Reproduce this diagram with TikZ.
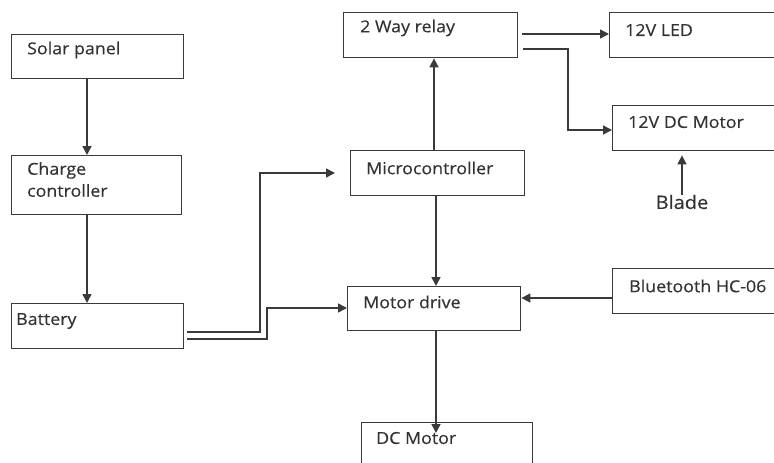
\documentclass[tikz,border=0pt]{standalone}
\usepackage{fontspec}
\setmainfont[FakeStretch=1.08,FakeBold=0.4]{Open Sans}
\usetikzlibrary{arrows.meta,calc}
\definecolor{ln}{HTML}{3A3A3A}
\definecolor{tx}{HTML}{333333}
\tikzset{
  box/.style={draw=ln, line width=1.4pt, rectangle, anchor=north west, inner sep=0pt},
  txt/.style={anchor=west, inner sep=0pt, text=tx, font=\fontsize{16.5}{22}\selectfont, align=left},
  arr/.style={draw=ln, line width=1.6pt, -{Triangle[length=9pt,width=9pt]}},
  wire/.style={draw=ln, line width=1.6pt}
}
\begin{document}
\begin{tikzpicture}[x=1pt,y=-1pt]
\useasboundingbox (0,0) rectangle (774,463);
\clip (0,0) rectangle (774,463);
% boxes
\node[box, minimum width=172pt, minimum height=44pt] (sp) at (11,34) {};
\node[box, minimum width=170pt, minimum height=59pt] (cc) at (11,155) {};
\node[box, minimum width=172pt, minimum height=45pt] (bat) at (11,303) {};
\node[box, minimum width=174pt, minimum height=45pt] (mc) at (350,150) {};
\node[box, minimum width=173pt, minimum height=44pt] (md) at (347,286) {};
\node[box, minimum width=171pt, minimum height=60pt] (dc) at (361,422) {};
\node[box, minimum width=174pt, minimum height=45pt] (rl) at (343,12) {};
\node[box, minimum width=180pt, minimum height=45pt] (led) at (609,12) {};
\node[box, minimum width=175pt, minimum height=45pt] (dcm) at (612,105) {};
\node[box, minimum width=175pt, minimum height=45pt] (bt) at (612,268) {};
% texts
\node[txt] (spt) at (27,50) {Solar panel};
\node[txt, anchor=north west] (cct) at (27,162) {Charge\\controller};
\node[txt] (batt) at (16,321) {Battery};
\node[txt] (mct) at (366,168) {Microcontroller};
\node[txt] (mdt) at (363,302) {Motor drive};
\node[txt] (dct) at (376,438) {DC Motor};
\node[txt] (rlt) at (360,28) {2 Way relay};
\node[txt] (ledt) at (625,30) {12V LED};
\node[txt] (dcmt) at (628,122) {12V DC Motor};
\node[txt] (btt) at (629,286) {Bluetooth HC-06};
\node[txt, anchor=center, font=\fontsize{18.5}{20}\selectfont] (bl) at (682,202) {Blade};
% helper coordinates
\coordinate (xa) at (87,0);
\coordinate (xb) at (434,0);
\coordinate (xc) at (436,0);
\coordinate (xd) at (260,0);
\coordinate (xe) at (267,0);
\coordinate (xf) at (568,0);
\coordinate (xm) at (335,0);
\coordinate (b1) at (187,332);
\coordinate (b2) at (187,339);
\coordinate (r1) at (522,34);
\coordinate (r2) at (523,49);
\coordinate (ym) at (0,173);
\coordinate (ymd) at (0,308);
\coordinate (ydm) at (0,130);
\coordinate (ybt) at (0,298);
% arrows
\draw[arr] (xa |- sp.south) -- (xa |- cc.north);
\draw[arr] (xa |- cc.south) -- (xa |- bat.north);
\draw[arr] (b1) -- (xd |- b1) -- (xd |- ym) -- (xm |- ym);
\draw[arr] (b2) -- (xe |- b2) -- (xe |- ymd) -- (md.west |- ymd);
\draw[arr] (xb |- mc.north) -- (xb |- rl.south);
\draw[arr] (xc |- mc.south) -- (xc |- md.north);
\draw[arr] (xc |- md.south) -- ([yshift=-11pt]xc |- dc.north);
\draw[arr] (r1) -- (led.west |- r1);
\draw[arr] (r2) -- (xf |- r2) -- (xf |- ydm) -- (dcm.west |- ydm);
\draw[arr] (bt.west |- ybt) -- (md.east |- ybt);
\draw[arr, shorten >=4pt] (bl.north) -- (bl.north |- dcm.south);
\end{tikzpicture}
\end{document}
